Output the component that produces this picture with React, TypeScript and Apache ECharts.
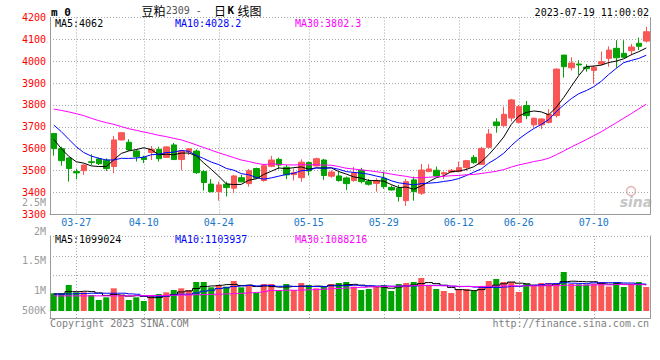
import React, { useEffect, useRef } from 'react';
import * as echarts from 'echarts';

// ---------- data ----------
const dates = [
  '03-22', '03-23', '03-24', '03-27', '03-28', '03-29', '03-30', '03-31',
  '04-03', '04-04', '04-06', '04-07', '04-10', '04-11', '04-12', '04-13', '04-14', '04-17', '04-18', '04-19', '04-20', '04-21', '04-24', '04-25', '04-26', '04-27', '04-28',
  '05-04', '05-05', '05-08', '05-09', '05-10', '05-11', '05-12', '05-15', '05-16', '05-17', '05-18', '05-19', '05-22', '05-23', '05-24', '05-25', '05-26', '05-29', '05-30', '05-31',
  '06-01', '06-02', '06-05', '06-06', '06-07', '06-08', '06-09', '06-12', '06-13', '06-14', '06-15', '06-16', '06-19', '06-20', '06-21', '06-26', '06-27', '06-28', '06-29', '06-30',
  '07-03', '07-04', '07-05', '07-06', '07-07', '07-10', '07-11', '07-12', '07-13', '07-14', '07-17', '07-18', '07-19',
];
const tickLabels = ['03-27', '04-10', '04-24', '05-15', '05-29', '06-12', '06-26', '07-10'];

const opens = [
  3669, 3600, 3557, 3495, 3499, 3540, 3553, 3547, 3518, 3640,
  3629, 3589, 3560, 3582, 3597, 3560, 3617, 3550, 3586, 3589,
  3495, 3438, 3403, 3437, 3419, 3467, 3440, 3509, 3454, 3519,
  3551, 3515, 3481, 3467, 3536, 3521, 3548, 3474, 3475, 3466,
  3454, 3501, 3449, 3441, 3464, 3423, 3419, 3362, 3457, 3396,
  3495, 3501, 3484, 3493, 3495, 3513, 3560, 3528, 3606, 3722,
  3705, 3740, 3720, 3797, 3709, 3709, 3720, 3751, 4028, 3970,
  3987, 3973, 3958, 3987, 4013, 4059, 4036, 4048, 4082, 4092,
];
const closes = [
  3600, 3545, 3509, 3489, 3525, 3537, 3531, 3509, 3640, 3673,
  3594, 3563, 3550, 3597, 3554, 3608, 3550, 3589, 3599, 3490,
  3445, 3403, 3434, 3422, 3475, 3448, 3499, 3465, 3522, 3548,
  3525, 3480, 3490, 3538, 3498, 3554, 3477, 3493, 3454, 3440,
  3489, 3449, 3437, 3454, 3426, 3411, 3381, 3449, 3403, 3502,
  3507, 3475, 3490, 3501, 3513, 3545, 3536, 3601, 3667, 3705,
  3757, 3823, 3792, 3751, 3739, 3736, 3757, 3964, 3975, 3992,
  3983, 3966, 3972, 3998, 4051, 4016, 4018, 4065, 4068, 4135,
];
const lows = [
  3568, 3522, 3449, 3461, 3480, 3525, 3525, 3498, 3487, 3637,
  3589, 3541, 3534, 3548, 3541, 3559, 3548, 3501, 3571, 3484,
  3408, 3400, 3362, 3381, 3396, 3446, 3426, 3461, 3449, 3515,
  3505, 3460, 3454, 3449, 3477, 3518, 3457, 3467, 3449, 3411,
  3449, 3441, 3431, 3403, 3416, 3408, 3358, 3338, 3362, 3388,
  3492, 3472, 3461, 3489, 3492, 3499, 3531, 3525, 3601, 3673,
  3700, 3725, 3715, 3735, 3696, 3690, 3715, 3742, 3925, 3957,
  3937, 3952, 3896, 3980, 3975, 3970, 4015, 4027, 4051, 4085,
];
const highs = [
  3672, 3609, 3560, 3507, 3527, 3574, 3559, 3556, 3658, 3676,
  3643, 3597, 3568, 3612, 3609, 3612, 3626, 3594, 3603, 3597,
  3502, 3461, 3449, 3449, 3480, 3480, 3507, 3513, 3528, 3567,
  3559, 3525, 3510, 3551, 3541, 3559, 3553, 3501, 3495, 3472,
  3516, 3512, 3461, 3464, 3495, 3431, 3434, 3461, 3472, 3530,
  3528, 3518, 3495, 3507, 3541, 3548, 3571, 3608, 3690, 3739,
  3792, 3828, 3800, 3818, 3742, 3739, 3781, 3967, 4028, 4018,
  4005, 3986, 3980, 4044, 4068, 4096, 4096, 4079, 4108, 4158,
];
const volumes = [
  897500, 897000, 1085000, 920000, 921000, 860000, 747500, 807500, 1010000, 860000,
  747500, 807500, 725000, 860000, 882500, 920000, 972500, 1010000, 972500, 1152500,
  1152500, 1032500, 1085000, 1047500, 1175000, 1032500, 1085000, 912500, 1107500, 1107500,
  972500, 1107500, 972500, 1130000, 1085000, 1010000, 1062500, 1107500, 1130000, 1152500,
  1047500, 972500, 995000, 1062500, 1085000, 950000, 1107500, 1130000, 1152500, 1242500,
  1062500, 995000, 950000, 905000, 995000, 995000, 950000, 1062500, 1175000, 1220000,
  1152500, 1152500, 927500, 1107500, 1062500, 1130000, 1130000, 1107500, 1377500, 1107500,
  1100000, 1095000, 1115000, 1152500, 1050000, 1152500, 1040000, 1107500, 1152500, 1040000,
];

// moving-average values before enough history is visible
const ma5Head = [3643, 3600, 3565, 3540];
const ma10Head = [3708, 3678, 3643, 3609, 3582, 3566, 3556, 3548, 3548];
const ma30Head = [
  3781, 3775, 3768, 3760, 3751, 3739, 3728, 3719, 3711, 3701,
  3691, 3684, 3676, 3669, 3661, 3655, 3647, 3640, 3629, 3617,
  3605, 3593, 3581, 3570, 3559, 3548, 3541, 3533, 3527,
];
const volMa5Head = [885000, 885000, 935000, 935000];
const volMa10Head = [880000, 880000, 885000, 890000, 895000, 900000, 900000, 900000, 900000];
const volMa30Head = [
  840000, 840000, 840000, 840000, 840000, 840000, 840000, 840000, 840000, 840000,
  842000, 844000, 846000, 848000, 850000, 852000, 855000, 858000, 862000, 866000,
  870000, 875000, 880000, 886000, 892000, 900000, 910000, 920000, 935000,
];

const priceMin = 3300;
const priceMax = 4200;
const priceStep = 100;
const volTickLabels = ['2.5M', '2M', '1.5M', '1M', '500K'];
const mainHeader = ['MA5:4062', 'MA10:4028.2', 'MA30:3802.3'];
const volHeader = ['MA5:1099024', 'MA10:1103937', 'MA30:1088216'];

// ---------- layout & style ----------
const UP = '#fa5656';
const DOWN = '#00a300';
const MA_COLORS = ['#000000', '#0000ff', '#ff00ff'];
const GRID_LINE = '#a8a8a8';
const AXIS_LINE = '#9a9a9a';
const MONO = '"DejaVu Sans Mono", "Liberation Mono", monospace';
const CJK = '"Noto Sans CJK SC", sans-serif';
const LEFT = 50;
const RIGHT = 10;
const volLabelY = [202.5, 231, 260.7, 290.7, 310.7];
const headerX = [55, 175, 295];

function movingAverage(values: number[], n: number, head: number[]) {
  return values.map((_, i) => {
    if (i < n - 1) return head[i];
    let s = 0;
    for (let k = i - n + 1; k <= i; k++) s += values[k];
    return +(s / n).toFixed(2);
  });
}

const isTick = (_: number, v: string) => tickLabels.includes(v);
const dotted = { color: GRID_LINE, width: 1, type: [1, 2] as number[] };

function buildOption() {
  const ma = [
    movingAverage(closes, 5, ma5Head),
    movingAverage(closes, 10, ma10Head),
    movingAverage(closes, 30, ma30Head),
  ];
  const vma = [
    movingAverage(volumes, 5, volMa5Head),
    movingAverage(volumes, 10, volMa10Head),
    movingAverage(volumes, 30, volMa30Head),
  ];
  const candles = dates.map((_, i) => [opens[i], closes[i], lows[i], highs[i]]);
  const volData = volumes.map((v, i) => ({
    value: v,
    itemStyle: { color: closes[i] >= opens[i] ? UP : DOWN },
  }));

  const text = (t: string, x: number, y: number, fill: string, font: string, align = 'left', lh?: number) => ({
    type: 'text',
    silent: true,
    style: { text: t, x, y, fill, font, textAlign: align, textVerticalAlign: 'middle', ...(lh ? { lineHeight: lh } : {}) },
  });

  const graphic: any[] = [
    text('m 0', 51, 12, '#000', `bold 11px ${MONO}`),
    text('豆粕', 141.5, 10, '#000', `12px ${CJK}`),
    text('2309 -', 165.7, 10.5, '#555', `10px ${MONO}`),
    text('日', 214, 10, '#000', `12px ${CJK}`),
    text('K', 227.5, 10.5, '#000', `bold 11px ${MONO}`),
    text('线图', 237.5, 10, '#000', `12px ${CJK}`),
    text('2023-07-19 11:00:02', 649, 12.2, '#000', `10px ${MONO}`, 'right'),
    text('Copyright 2023 SINA.COM', 50, 323.5, '#808080', `10px ${MONO}`),
    text('http://finance.sina.com.cn', 649, 323.5, '#808080', `10px ${MONO}`, 'right'),
    {
      type: 'circle', silent: true,
      shape: { cx: 631, cy: 191, r: 4.5 },
      style: { fill: 'none', stroke: '#e3b5b5', lineWidth: 1.5 },
    },
    text('sina', 636, 202, '#c6c6c6', `italic bold 14px "DejaVu Sans", sans-serif`, 'center'),
  ];
  mainHeader.forEach((t, i) => graphic.push(text(t, headerX[i], 23.8, MA_COLORS[i], `10px ${MONO}`)));
  volHeader.forEach((t, i) => graphic.push(text(t, headerX[i], 239.3, MA_COLORS[i], `10px ${MONO}`)));
  volTickLabels.forEach((t, i) => graphic.push(text(t, 46, volLabelY[i], '#9a9a9a', `10px ${MONO}`, 'right', 9)));

  const hiddenCat = (gridIndex: number) => ({
    type: 'category', gridIndex, data: dates, boundaryGap: true, show: false,
  });

  return {
    animation: false,
    backgroundColor: '#ffffff',
    grid: [
      { left: LEFT, right: RIGHT, top: 17.5, height: 196.7 },
      { left: LEFT, right: RIGHT, top: 236, height: 82.3 },
      { left: LEFT, right: RIGHT, top: 236, height: 79 },
      { left: LEFT, right: RIGHT, top: 236, height: 75 },
    ],
    xAxis: [
      {
        type: 'category', gridIndex: 0, data: dates, boundaryGap: true,
        axisLine: { onZero: false, lineStyle: { color: AXIS_LINE } },
        axisTick: { show: false },
        axisLabel: { interval: isTick, color: '#1778c8', fontFamily: MONO, fontSize: 10, margin: 3 },
        splitLine: { show: true, interval: isTick, alignWithLabel: true, lineStyle: dotted },
      },
      {
        type: 'category', gridIndex: 1, data: dates, boundaryGap: true,
        axisLine: { onZero: false, lineStyle: { color: AXIS_LINE } },
        axisTick: { show: false },
        axisLabel: { show: false },
        splitLine: { show: true, interval: isTick, alignWithLabel: true, lineStyle: dotted },
      },
      hiddenCat(2),
      hiddenCat(3),
    ],
    yAxis: [
      {
        type: 'value', gridIndex: 0, min: priceMin, max: priceMax, interval: priceStep,
        axisLine: { show: true, lineStyle: { color: AXIS_LINE } },
        axisTick: { show: false },
        axisLabel: {
          color: '#ff0000', fontFamily: MONO, fontSize: 10, margin: 4, lineHeight: 9,
          padding: [0, 0, 4, 0],
          formatter: (v: number) => String(v),
        },
        splitLine: { show: true, lineStyle: dotted },
      },
      {
        type: 'value', gridIndex: 0, position: 'right', min: 0, max: 1,
        axisLine: { show: true, lineStyle: { color: AXIS_LINE } },
        axisTick: { show: false }, axisLabel: { show: false }, splitLine: { show: false },
      },
      {
        type: 'value', gridIndex: 1, min: 0, max: 1,
        axisLine: { show: true, lineStyle: { color: AXIS_LINE } },
        axisTick: { show: false }, axisLabel: { show: false }, splitLine: { show: false },
      },
      {
        type: 'value', gridIndex: 1, position: 'right', min: 0, max: 1,
        axisLine: { show: true, lineStyle: { color: AXIS_LINE } },
        axisTick: { show: false }, axisLabel: { show: false }, splitLine: { show: false },
      },
      {
        type: 'value', gridIndex: 2, min: 0, max: 4, interval: 1,
        axisLine: { show: false }, axisTick: { show: false }, axisLabel: { show: false },
        splitLine: { show: true, showMinLine: false, lineStyle: dotted },
      },
      { type: 'value', gridIndex: 3, min: 500000, max: 2187500, show: false },
    ],
    series: [
      {
        type: 'candlestick', xAxisIndex: 0, yAxisIndex: 0, data: candles, barWidth: 6,
        itemStyle: { color: UP, color0: DOWN, borderColor: UP, borderColor0: DOWN, borderWidth: 1 },
      },
      ...ma.map((d, i) => ({
        type: 'line', xAxisIndex: 0, yAxisIndex: 0, data: d, symbol: 'none', z: 3,
        lineStyle: { color: MA_COLORS[i], width: 1 },
      })),
      {
        type: 'bar', xAxisIndex: 3, yAxisIndex: 5, data: volData, barWidth: 6,
      },
      ...vma.map((d, i) => ({
        type: 'line', xAxisIndex: 3, yAxisIndex: 5, data: d, symbol: 'none', step: 'middle', z: 3,
        lineStyle: { color: MA_COLORS[i], width: 1 },
      })),
    ],
    graphic,
  };
}

export default function App() {
  const ref = useRef<HTMLDivElement>(null);
  useEffect(() => {
    document.body.style.margin = '0';
    const chart = echarts.init(ref.current!, undefined, { renderer: 'svg' });
    chart.setOption(buildOption() as any);
    return () => chart.dispose();
  }, []);
  return <div ref={ref} style={{ width: 660, height: 360 }} />;
}
